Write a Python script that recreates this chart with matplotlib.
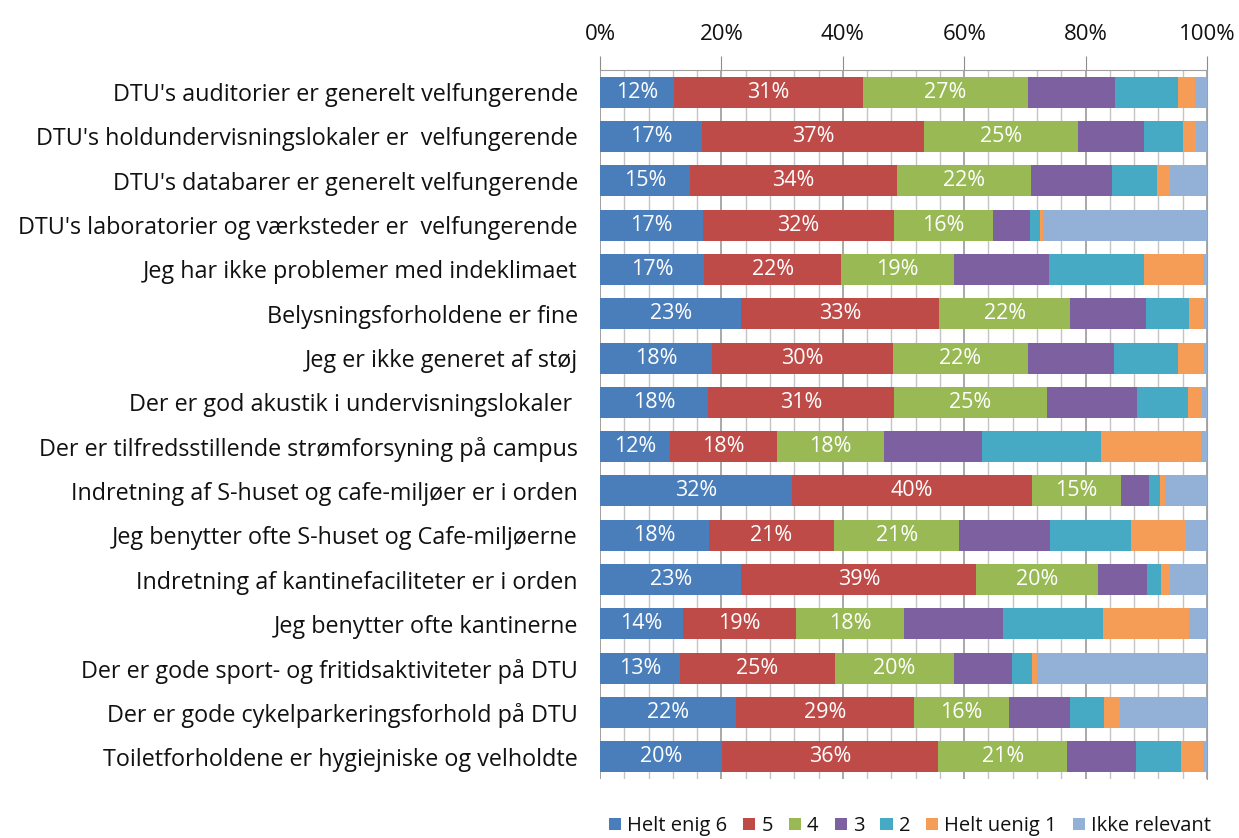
import matplotlib
matplotlib.use("Agg")
import matplotlib.pyplot as plt
from matplotlib.ticker import MultipleLocator, FuncFormatter
from matplotlib.patches import Patch
import numpy as np

plt.rcParams['font.family'] = ['Open Sans', 'DejaVu Sans']
plt.rcParams['text.color'] = '#111111'
plt.rcParams['xtick.color'] = '#111111'
plt.rcParams['ytick.color'] = '#111111'

categories = [
    "DTU's auditorier er generelt velfungerende",
    "DTU's holdundervisningslokaler er  velfungerende",
    "DTU's databarer er generelt velfungerende",
    "DTU's laboratorier og værksteder er  velfungerende",
    "Jeg har ikke problemer med indeklimaet",
    "Belysningsforholdene er fine",
    "Jeg er ikke generet af støj",
    "Der er god akustik i undervisningslokaler ",
    "Der er tilfredsstillende strømforsyning på campus",
    "Indretning af S-huset og cafe-miljøer er i orden",
    "Jeg benytter ofte S-huset og Cafe-miljøerne",
    "Indretning af kantinefaciliteter er i orden",
    "Jeg benytter ofte kantinerne",
    "Der er gode sport- og fritidsaktiviteter på DTU",
    "Der er gode cykelparkeringsforhold på DTU",
    "Toiletforholdene er hygiejniske og velholdte",
]

series_names = ["Helt enig 6", "5", "4", "3", "2", "Helt uenig 1", "Ikke relevant"]

helt_enig_6 = [12.2, 16.8, 14.9, 16.9, 17.2, 23.3, 18.5, 17.8, 11.5, 31.6, 17.9, 23.3, 13.7, 13.2, 22.4, 20.2]
val_5 = [31.2, 36.6, 34.0, 31.5, 22.5, 32.6, 29.7, 30.6, 17.6, 39.7, 20.7, 38.7, 18.6, 25.4, 29.2, 35.6]
val_4 = [27.1, 25.3, 22.1, 16.4, 18.6, 21.6, 22.3, 25.1, 17.7, 14.6, 20.6, 20.1, 17.9, 19.6, 15.7, 21.2]
val_3 = [14.3, 11.0, 13.3, 6.0, 15.6, 12.5, 14.2, 14.8, 16.1, 4.6, 15.0, 8.0, 16.3, 9.6, 10.1, 11.4]
val_2 = [10.5, 6.3, 7.4, 1.7, 15.7, 7.1, 10.5, 8.5, 19.6, 1.9, 13.2, 2.4, 16.4, 3.2, 5.5, 7.4]
helt_uenig_1 = [2.7, 2.2, 2.2, 0.5, 9.8, 2.4, 4.3, 2.3, 16.5, 0.7, 9.2, 1.4, 14.3, 0.8, 2.6, 3.7]
ikke_relevant = [2.0, 1.8, 6.1, 27.0, 0.6, 0.5, 0.5, 0.8, 1.0, 7.0, 3.4, 6.1, 2.9, 28.0, 14.4, 0.6]

label_texts_6 = ["12%", "17%", "15%", "17%", "17%", "23%", "18%", "18%", "12%", "32%", "18%", "23%", "14%", "13%", "22%", "20%"]
label_texts_5 = ["31%", "37%", "34%", "32%", "22%", "33%", "30%", "31%", "18%", "40%", "21%", "39%", "19%", "25%", "29%", "36%"]
label_texts_4 = ["27%", "25%", "22%", "16%", "19%", "22%", "22%", "25%", "18%", "15%", "21%", "20%", "18%", "20%", "16%", "21%"]

colors = ["#4A7EBB", "#BE4B48", "#98B954", "#7D60A0", "#46AAC5", "#F59D56", "#93B1D6"]

all_series = [helt_enig_6, val_5, val_4, val_3, val_2, helt_uenig_1, ikke_relevant]
all_labels = [label_texts_6, label_texts_5, label_texts_4, None, None, None, None]

fig = plt.figure(figsize=(12.39, 8.38), dpi=100)
ax = fig.add_axes([600/1239, 1 - 779/838, 607/1239, (779-70)/838])

y = np.arange(len(categories))
total = np.array([sum(s[i] for s in all_series) for i in range(len(categories))])
left = np.zeros(len(categories))
for name, vals, col, labs in zip(series_names, all_series, colors, all_labels):
    v = np.array(vals) / total * 100
    bars = ax.barh(y, v, left=left, height=0.7, color=col, edgecolor='none', label=name, zorder=3)
    if labs is not None:
        for i, b in enumerate(bars):
            ax.text(left[i] + v[i] / 2, y[i], labs[i], ha='center', va='center',
                    color='white', fontsize=15.5, zorder=4)
    left = left + v

ax.set_xlim(0, 100)
ax.set_ylim(len(categories) - 0.5, -0.5)
ax.xaxis.set_major_locator(MultipleLocator(20))
ax.xaxis.set_minor_locator(MultipleLocator(4))
ax.xaxis.set_major_formatter(FuncFormatter(lambda v, p: f"{int(round(v))}%"))
ax.xaxis.tick_top()
ax.tick_params(axis='x', which='major', length=10, color='#8c8c8c', labelsize=16, pad=8)
ax.tick_params(axis='x', which='minor', length=0)
ax.set_yticks(y)
ax.set_yticklabels(categories, fontsize=16.8)
ax.tick_params(axis='y', length=0, pad=16)
ax.grid(True, axis='x', which='minor', color='#c4c4c4', linewidth=1.0, zorder=1)
ax.grid(True, axis='x', which='major', color='#9a9a9a', linewidth=1.2, zorder=1)
for s in ax.spines.values():
    s.set_color('#a0a0a0')
ax.spines['bottom'].set_visible(False)
ax.spines['left'].set_visible(False)
ax.axvline(0, color='#a0a0a0', linewidth=1.2, zorder=2)

handles = [Patch(facecolor=c, edgecolor='none') for c in colors]
fig.legend(handles, series_names, loc='center', bbox_to_anchor=(910/1239, 1 - 826/838),
           ncol=7, frameon=False, fontsize=14.5, handlelength=0.6, handleheight=0.6,
           handletextpad=0.3, columnspacing=0.8)

fig.savefig("out.png", dpi=100)
